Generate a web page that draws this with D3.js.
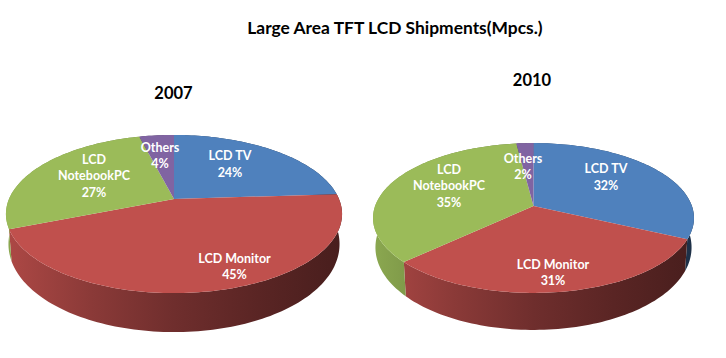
<!DOCTYPE html>
<html>
<head>
<meta charset="utf-8">
<style>
  html, body { margin: 0; padding: 0; background: #fff; }
  svg { display: block; }
  text { font-family: Lato, "Open Sans", sans-serif; font-weight: 700; }
</style>
<script src="https://cdn.jsdelivr.net/npm/d3@7"></script>
</head>
<body>
<div id="chart"></div>
<script>
// ── Data ───────────────────────────────────────────────────────────────
const chartTitle = "Large Area TFT LCD Shipments(Mpcs.)";
const categories = ["LCD TV", "LCD Monitor", "LCD NotebookPC", "Others"];
const categoryLines = [["LCD TV"], ["LCD Monitor"], ["LCD", "NotebookPC"], ["Others"]];
const values2007 = [24, 45, 27, 4];
const values2010 = [32, 31, 35, 2];

// ── Layout ─────────────────────────────────────────────────────────────
const width = 726;
const height = 358;
const colors = ["#4F81BD", "#C0504D", "#9BBB59", "#8064A2"];

const pies = [
  {
    year: "2007", values: values2007,
    titleX: 173.5, titleY: 93,
    cx: 174, cy: 199, a: 76.2, b: 165, k: 0.19,
    bottomScale: 0.985, dropMid: 28, dropSlope: 11,
    x0: 7, x1: 342,
    // top-of-block label centres, one per category
    labels: [[230, 155.5], [234.5, 258], [94, 159], [160, 147]],
  },
  {
    year: "2010", values: values2010,
    titleX: 532, titleY: 80,
    cx: 533.5, cy: 206, a: 73, b: 158.4, k: 0.16,
    bottomScale: 0.985, dropMid: 28, dropSlope: 9,
    x0: 373, x1: 694,
    labels: [[606, 168.5], [553, 264], [449, 169], [523, 158]],
  },
];

// ── SVG ────────────────────────────────────────────────────────────────
const svg = d3
  .select("#chart")
  .append("svg")
  .attr("width", width)
  .attr("height", height)
  .attr("viewBox", `0 0 ${width} ${height}`);

const defs = svg.append("defs");

svg
  .append("text")
  .attr("x", 395)
  .attr("y", 27)
  .attr("text-anchor", "middle")
  .attr("dominant-baseline", "central")
  .attr("font-size", 17.4)
  .attr("fill", "#000")
  .text(chartTitle);

const pieGen = d3.pie().sort(null).value((d) => d);
const line = d3.line();

pies.forEach((p, pi) => {
  const slices = pieGen(p.values);
  const g = svg.append("g");

  // perspective: near edge of the disc is bigger than the far edge,
  // and the wall gets taller towards the viewer
  const project = (angle, scale, isBottom) => {
    const u = Math.sin(angle);
    const v = -Math.cos(angle);
    const w = 1 - p.k * v;
    const drop = isBottom ? p.dropMid + p.dropSlope * v : 0;
    return [p.cx + (scale * p.b * u) / w, p.cy + drop + (p.a * v) / w];
  };

  const arcPoints = (s, scale, isBottom) => {
    const n = Math.max(2, Math.ceil((s.endAngle - s.startAngle) * 40));
    return d3
      .range(n + 1)
      .map((i) =>
        project(s.startAngle + ((s.endAngle - s.startAngle) * i) / n, scale, isBottom),
      );
  };

  // ── Wall gradients, dark to the right ─────────────────────────────────
  const shade = d3.scaleLinear().domain([0, 1]).range([0.3, 2.75]);
  colors.forEach((c, i) => {
    const grad = defs
      .append("linearGradient")
      .attr("id", `wall-${pi}-${i}`)
      .attr("gradientUnits", "userSpaceOnUse")
      .attr("x1", p.x0)
      .attr("x2", p.x1)
      .attr("y1", 0)
      .attr("y2", 0);
    d3.range(0, 1.01, 0.25).forEach((t) => {
      grad
        .append("stop")
        .attr("offset", t)
        .attr("stop-color", d3.color(c).darker(shade(t)).formatHex());
    });
  });

  // ── Walls ─────────────────────────────────────────────────────────────
  g.selectAll(".wall")
    .data(slices)
    .join("path")
    .attr("class", "wall")
    .attr("fill", (d, i) => `url(#wall-${pi}-${i})`)
    .attr("d", (d) =>
      line([
        ...arcPoints(d, 1, false),
        ...arcPoints(d, p.bottomScale, true).reverse(),
      ]) + "Z",
    );

  // ── Top faces ─────────────────────────────────────────────────────────
  g.selectAll(".face")
    .data(slices)
    .join("path")
    .attr("class", "face")
    .attr("fill", (d, i) => colors[i])
    .attr("d", (d) => line([[p.cx, p.cy], ...arcPoints(d, 1, false)]) + "Z");

  // ── Labels ────────────────────────────────────────────────────────────
  const labelRow = 16.6;
  slices.forEach((s, i) => {
    const rows = [...categoryLines[i], `${s.data}%`];
    const [lx, ly] = p.labels[i];
    g.append("text")
      .attr("text-anchor", "middle")
      .attr("fill", "#fff")
      .attr("font-size", 12.5)
      .selectAll("tspan")
      .data(rows)
      .join("tspan")
      .attr("x", lx)
      .attr("y", (d, r) => ly + r * labelRow)
      .attr("dominant-baseline", "central")
      .text((d) => d);
  });

  // ── Year ──────────────────────────────────────────────────────────────
  svg
    .append("text")
    .attr("x", p.titleX)
    .attr("y", p.titleY)
    .attr("text-anchor", "middle")
    .attr("dominant-baseline", "central")
    .attr("font-size", 16.5)
    .attr("fill", "#000")
    .text(p.year);
});
</script>
</body>
</html>
